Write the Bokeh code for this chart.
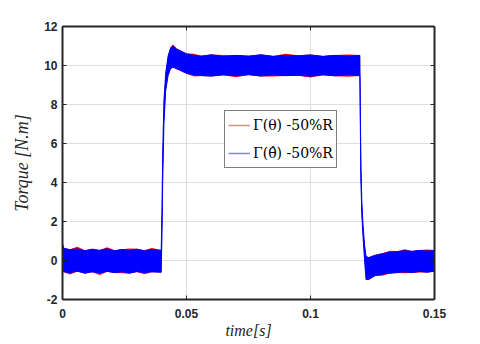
from bokeh.plotting import figure
from bokeh.models import LinearAxis, FixedTicker, Legend, LegendItem
from bokeh.embed import file_html
from bokeh.resources import INLINE

# time samples (s)
t = [0.0, 0.0006, 0.003, 0.006, 0.009, 0.012, 0.015, 0.018, 0.021, 0.024, 0.027, 0.030, 0.033, 0.036, 0.0398,
     0.0401, 0.0404, 0.0409, 0.0416, 0.0426, 0.0436, 0.0446, 0.046, 0.048, 0.050, 0.053, 0.056,
     0.060, 0.065, 0.070, 0.075, 0.080, 0.085, 0.090, 0.095, 0.100, 0.105, 0.110, 0.115, 0.1199,
     0.1203, 0.1207, 0.1212, 0.1218, 0.1224, 0.1235, 0.126, 0.129, 0.132, 0.135, 0.138, 0.141, 0.144, 0.147, 0.150]

# Gamma(theta_hat) -50%R  (blue) envelope
blue_upper = [0.86, 0.62, 0.56, 0.60, 0.50, 0.58, 0.52, 0.60, 0.50, 0.57, 0.52, 0.58, 0.50, 0.56, 0.52,
              2.5, 5.5, 8.2, 9.6, 10.5, 10.9, 11.0, 10.85, 10.72, 10.60, 10.52, 10.48,
              10.55, 10.46, 10.52, 10.48, 10.55, 10.47, 10.52, 10.50, 10.54, 10.47, 10.52, 10.48, 10.52,
              5.0, 3.0, 1.8, 0.8, 0.2, 0.15, 0.26, 0.35, 0.43, 0.46, 0.50, 0.47, 0.52, 0.48, 0.52]
blue_lower = [-0.10, -0.58, -0.62, -0.55, -0.65, -0.58, -0.64, -0.56, -0.62, -0.58, -0.65, -0.57, -0.62, -0.58, -0.60,
              1.2, 4.0, 7.0, 8.7, 9.5, 9.85, 9.92, 9.85, 9.72, 9.60, 9.52, 9.48,
              9.46, 9.52, 9.47, 9.53, 9.46, 9.52, 9.48, 9.50, 9.45, 9.52, 9.47, 9.52, 9.48,
              4.2, 2.3, 1.2, 0.0, -0.98, -0.97, -0.78, -0.70, -0.65, -0.62, -0.58, -0.62, -0.56, -0.60, -0.55]

# Gamma(theta) -50%R  (red) envelope
red_upper = [0.40, 0.64, 0.58, 0.70, 0.52, 0.60, 0.54, 0.68, 0.52, 0.58, 0.62, 0.60, 0.52, 0.64, 0.54,
             2.5, 5.5, 8.2, 9.6, 10.5, 10.95, 11.08, 10.87, 10.74, 10.62, 10.60, 10.50,
             10.57, 10.54, 10.54, 10.50, 10.57, 10.49, 10.60, 10.52, 10.56, 10.49, 10.54, 10.56, 10.54,
             5.0, 3.0, 1.8, 0.8, 0.22, 0.17, 0.30, 0.37, 0.50, 0.48, 0.58, 0.49, 0.54, 0.56, 0.54]
red_lower = [-0.62, -0.60, -0.72, -0.57, -0.67, -0.60, -0.74, -0.58, -0.64, -0.66, -0.67, -0.59, -0.70, -0.60, -0.62,
             1.2, 4.0, 7.0, 8.7, 9.5, 9.82, 9.88, 9.80, 9.70, 9.58, 9.44, 9.46,
             9.44, 9.50, 9.40, 9.51, 9.44, 9.43, 9.46, 9.48, 9.38, 9.50, 9.45, 9.42, 9.46,
             4.2, 2.3, 1.2, 0.0, -1.0, -0.99, -0.80, -0.78, -0.67, -0.64, -0.66, -0.64, -0.62, -0.62, -0.57]

x_ticks = [0, 0.05, 0.1, 0.15]
x_tick_labels = ["0", "0.05", "0.1", "0.15"]
y_ticks = [-2, 0, 2, 4, 6, 8, 10, 12]
y_tick_labels = ["-2", "0", "2", "4", "6", "8", "10", "12"]
legend_labels = ["\u0393(\u03b8) -50%R", "\u0393(\u03b8\u0302) -50%R"]

TXT = "#262626"

p = figure(width=472, height=344, x_range=(0, 0.15), y_range=(-2, 12),
           output_backend="svg", toolbar_location=None,
           min_border_left=62, min_border_right=38, min_border_top=26, min_border_bottom=45,
           x_axis_label="time[s]", y_axis_label="Torque [N.m]")
p.outline_line_color = None
p.background_fill_color = "white"
p.border_fill_color = "white"

# grid
for g in (p.xgrid, p.ygrid):
    g.grid_line_color = "#dedede"
    g.grid_line_width = 1
p.xgrid.ticker = FixedTicker(ticks=x_ticks)
p.ygrid.ticker = FixedTicker(ticks=y_ticks)

# bands
p.varea(x=t, y1=red_lower, y2=red_upper, fill_color="red")
p.varea(x=t, y1=blue_lower, y2=blue_upper, fill_color="blue")
p.line(t, blue_upper, line_color="blue", line_width=1)
p.line(t, blue_lower, line_color="blue", line_width=1)


def style_axis(ax, ticks, labels, show_labels):
    ax.ticker = FixedTicker(ticks=ticks)
    if show_labels:
        ax.major_label_overrides = {tk: lb for tk, lb in zip(ticks, labels)}
    else:
        ax.major_label_overrides = {tk: "" for tk in ticks}
        ax.major_label_standoff = 0
    ax.axis_line_color = TXT
    ax.axis_line_width = 2
    ax.major_tick_line_color = TXT
    ax.major_tick_line_width = 1
    ax.major_tick_in = 4
    ax.major_tick_out = 0
    ax.minor_tick_line_color = None
    ax.major_label_text_font = "Liberation Sans"
    ax.major_label_text_font_style = "bold"
    ax.major_label_text_font_size = "12px"
    ax.major_label_text_color = TXT


xa = p.xaxis[0]
ya = p.yaxis[0]
style_axis(xa, x_ticks, x_tick_labels, True)
style_axis(ya, y_ticks, y_tick_labels, True)
xa.major_label_standoff = 9
ya.major_label_standoff = 5
for ax, size in ((xa, "16px"), (ya, "18px")):
    ax.axis_label_text_font = "Liberation Serif"
    ax.axis_label_text_font_style = "italic"
    ax.axis_label_text_font_size = size
    ax.axis_label_text_color = TXT
xa.axis_label_standoff = 1
ya.axis_label_standoff = 9

top = LinearAxis()
style_axis(top, x_ticks, x_tick_labels, False)
p.add_layout(top, "above")
right = LinearAxis()
style_axis(right, y_ticks, y_tick_labels, False)
p.add_layout(right, "right")

# legend (sample renderers with a single point draw nothing on the plot)
r1 = p.line(t[:1], red_upper[:1], line_color="red", line_alpha=0.5, line_width=1.5)
r2 = p.line(t[:1], blue_upper[:1], line_color="blue", line_alpha=0.5, line_width=1.5)
leg = Legend(items=[LegendItem(label=legend_labels[0], renderers=[r1]),
                    LegendItem(label=legend_labels[1], renderers=[r2])],
             location=(162, 131))
leg.label_text_font = "DejaVu Serif"
leg.label_text_font_size = "14px"
leg.label_text_color = "black"
leg.glyph_width = 22
leg.glyph_height = 22
leg.label_height = 22
leg.label_standoff = 3
leg.spacing = 6
leg.padding = 3
leg.margin = 0
leg.border_line_color = "black"
leg.border_line_width = 1.5
leg.background_fill_color = "white"
leg.background_fill_alpha = 1
p.add_layout(leg, "center")

open("out.html", "w").write(file_html(p, INLINE))
